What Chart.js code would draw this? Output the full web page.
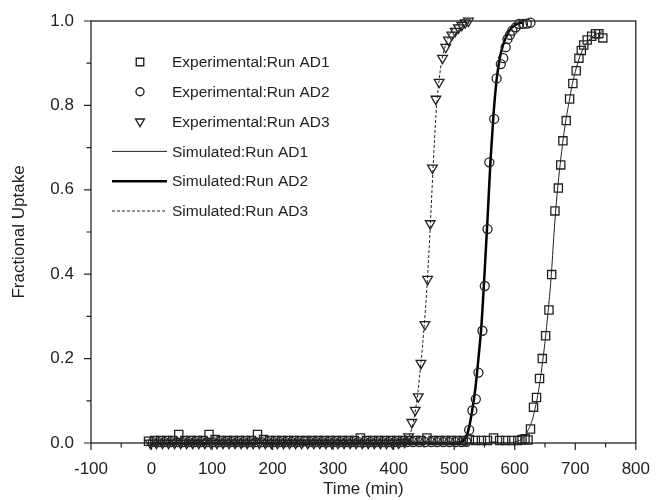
<!DOCTYPE html>
<html>
<head>
<meta charset="utf-8">
<script src="https://cdn.jsdelivr.net/npm/chart.js@4"></script>
<style>
  body { margin: 0; background: #fff; }
  #wrap { width: 658px; height: 500px; }
</style>
</head>
<body>
<div id="wrap"><canvas id="uptakeChart"></canvas></div>
<script>
// experimental run AD1 (squares)
const ad1Time = [-5,5,15,25,35,45,55,65,75,85,95,105,115,125,135,145,155,165,175,185,195,205,215,225,235,245,255,265,275,285,295,305,315,325,335,345,355,365,375,385,395,405,415,425,435,445,455,465,475,485,495,505,515,525,535,545,555,565,575,585,595,605,612,617,
    622,626,631,636,641,645.5,651,656.5,661,666.4,672,676,679.6,685,690.6,696,701.5,706,710,714,719.7,727,733.5,739,745.5]
const ad1Val = [0.004,0.006,0.006,0.006,0.006,0.02,0.006,0.006,0.006,0.006,0.02,0.008,0.006,0.006,0.006,0.006,0.006,0.006,0.02,0.008,0.006,0.006,0.006,0.006,0.006,0.006,0.006,0.006,0.006,0.006,0.006,0.006,0.006,0.006,0.006,0.012,0.006,0.006,0.006,0.006,0.006,0.006,0.006,0.006,0.006,0.006,0.012,0.006,0.006,0.006,0.006,0.006,0.006,0.008,0.006,0.006,0.006,0.012,0.006,0.006,0.006,0.006,0.008,0.01,
    0.007,0.033,0.085,0.108,0.153,0.2,0.254,0.315,0.399,0.55,0.604,0.659,0.716,0.764,0.815,0.852,0.882,0.912,0.93,0.943,0.955,0.964,0.97,0.97,0.96]

// experimental run AD2 (circles)
const ad2Time = [2,12,22,32,42,52,62,72,82,92,102,112,122,132,142,152,162,172,182,192,202,212,222,232,242,252,262,272,282,292,302,312,322,332,342,352,362,372,382,392,402,412,422,432,442,452,462,472,482,492,502,512,
    520,524.7,530,535.7,540,546.6,550.5,555,558,566,570,577,581,585,588,592,596,601.6,607,613.6,620,626]
const ad2Val = [0.002,0.002,0.002,0.002,0.002,0.002,0.002,0.002,0.002,0.002,0.002,0.002,0.002,0.002,0.002,0.002,0.002,0.002,0.002,0.002,0.002,0.002,0.002,0.002,0.002,0.004,0.002,0.002,0.002,0.002,0.002,0.002,0.002,0.002,0.002,0.002,0.002,0.002,0.002,0.002,0.002,0.002,0.002,0.002,0.002,0.002,0.002,0.002,0.002,0.002,0.002,0.002,
    0.003,0.031,0.077,0.104,0.167,0.266,0.372,0.507,0.665,0.768,0.864,0.898,0.912,0.938,0.957,0.967,0.977,0.985,0.993,0.993,0.994,0.996]

// experimental run AD3 (triangles)
const ad3Time = [-2,8,18,28,38,48,58,68,78,88,98,108,118,128,138,148,158,168,178,188,198,208,218,228,238,248,258,268,278,288,298,308,318,328,338,348,358,368,378,388,398,408,418,
    424.6,430,435.6,440.6,445,451.6,456,460.4,464,469.7,475,480.6,486,490.5,496,501.6,507,512.6,518,523.5]
const ad3Val = [0,0,0,0,0,0,0,0,0,0,0,0,0,0,0,0,0,0,0,0,0,0,0,0,0,0,0,0,0,0,0,0,0,0,0,0,0,0,0,0,0,0,0.002,
    0.015,0.049,0.078,0.11,0.189,0.281,0.388,0.52,0.652,0.815,0.855,0.912,0.938,0.955,0.967,0.976,0.984,0.99,0.996,1.0]

// simulated curves
const sim1Time = [0,580,600,610,620,630,640,650,655,660,665,670,675,680,685,690,695,700,710,720,730,745]
const sim1Val = [0,0,0.002,0.008,0.025,0.06,0.13,0.24,0.31,0.39,0.5,0.59,0.66,0.72,0.77,0.81,0.85,0.88,0.925,0.95,0.965,0.975]
const sim2Time = [0,500,515,520,525,530,535,540,545,550,555,560,565,570,575,580,590,600,615]
const sim2Val = [0,0,0.005,0.015,0.04,0.08,0.13,0.2,0.28,0.4,0.53,0.67,0.78,0.86,0.91,0.94,0.975,0.99,0.998]
const sim3Time = [0,400,420,425,430,435,440,445,450,455,460,465,470,475,480,490,500,510,520]
const sim3Val = [0,0,0.005,0.015,0.035,0.07,0.12,0.19,0.27,0.37,0.5,0.65,0.78,0.86,0.91,0.96,0.985,0.995,1.0]

const xTicks = [-100,0,100,200,300,400,500,600,700,800]
const yTicks = [0,0.2,0.4,0.6,0.8,1.0]

const toXY = (t, v) => t.map((x, i) => ({x: x, y: v[i]}))
const ink = '#222'
const font = 'Liberation Sans, Arial, sans-serif'

// frame, ticks (major + minor) and the legend box
const framePlugin = {
    id: 'frame',
    afterDraw(chart) {
        const {ctx, chartArea: a, scales} = chart
        ctx.save()
        ctx.strokeStyle = ink
        ctx.lineWidth = 1.3
        ctx.strokeRect(a.left, a.top, a.right - a.left, a.bottom - a.top)
        ctx.lineWidth = 1.2
        ctx.beginPath()
        for (let v = -100; v <= 800; v += 50) {
            const px = scales.x.getPixelForValue(v)
            const len = v % 100 === 0 ? 7 : 4.5
            ctx.moveTo(px, a.bottom); ctx.lineTo(px, a.bottom + len)
        }
        for (let k = 0; k <= 10; k++) {
            const py = scales.y.getPixelForValue(k / 10)
            const len = k % 2 === 0 ? 7 : 4.5
            ctx.moveTo(a.left, py); ctx.lineTo(a.left - len, py)
        }
        ctx.stroke()

        // legend
        ctx.font = '15.5px ' + font
        ctx.fillStyle = ink
        ctx.textBaseline = 'middle'
        chart.data.datasets.forEach((ds, i) => {
            const y = a.top + 41 + 29.8 * i
            if (ds.showLine) {
                ctx.save()
                ctx.strokeStyle = ds.borderColor
                ctx.lineWidth = ds.borderWidth
                ctx.setLineDash(ds.borderDash || [])
                ctx.beginPath()
                ctx.moveTo(a.left + 21, y); ctx.lineTo(a.left + 76, y)
                ctx.stroke()
                ctx.restore()
            } else {
                ctx.save()
                ctx.strokeStyle = ds.pointBorderColor
                ctx.fillStyle = 'transparent'
                ctx.lineWidth = 1.4
                Chart.helpers.drawPoint(ctx, {pointStyle: ds.pointStyle, radius: ds.pointRadius - 0.5, rotation: ds.pointRotation || 0, borderWidth: 1.4}, a.left + 49, y)
                ctx.restore()
            }
            ctx.fillText(ds.label, a.left + 81, y + 1)
        })
        ctx.restore()
    }
}

const ctx = document.getElementById('uptakeChart').getContext('2d')
const uptakeChart = new Chart(ctx, {
    type: 'scatter',
    data: {
        datasets: [{
            label: 'Experimental:Run AD1',
            data: toXY(ad1Time, ad1Val),
            pointStyle: 'rect',
            pointRadius: 5.8,
            pointBorderColor: ink,
            pointBackgroundColor: 'transparent',
            pointBorderWidth: 1.3
        }, {
            label: 'Experimental:Run AD2',
            data: toXY(ad2Time, ad2Val),
            pointStyle: 'circle',
            pointRadius: 4.5,
            pointBorderColor: ink,
            pointBackgroundColor: 'transparent',
            pointBorderWidth: 1.3
        }, {
            label: 'Experimental:Run AD3',
            data: toXY(ad3Time, ad3Val),
            pointStyle: 'triangle',
            pointRotation: 180,
            pointRadius: 5.6,
            pointBorderColor: ink,
            pointBackgroundColor: 'transparent',
            pointBorderWidth: 1.3
        }, {
            label: 'Simulated:Run AD1',
            data: toXY(sim1Time, sim1Val),
            showLine: true,
            pointRadius: 0,
            borderColor: ink,
            borderWidth: 1,
            cubicInterpolationMode: 'monotone'
        }, {
            label: 'Simulated:Run AD2',
            data: toXY(sim2Time, sim2Val),
            showLine: true,
            pointRadius: 0,
            borderColor: '#000',
            borderWidth: 2.5,
            cubicInterpolationMode: 'monotone'
        }, {
            label: 'Simulated:Run AD3',
            data: toXY(sim3Time, sim3Val),
            showLine: true,
            pointRadius: 0,
            borderColor: ink,
            borderWidth: 1,
            borderDash: [3, 2],
            cubicInterpolationMode: 'monotone'
        }]
    },
    options: {
        responsive: true,
        maintainAspectRatio: false,
        animation: false,
        clip: false,
        layout: { padding: { top: 21, right: 21, left: 0, bottom: 0 } },
        plugins: {
            legend: { display: false },
            tooltip: { enabled: false }
        },
        scales: {
            x: {
                type: 'linear',
                min: -100,
                max: 800,
                afterBuildTicks: (s) => { s.ticks = xTicks.map(v => ({value: v})) },
                afterFit: (s) => { s.height = 57 },
                grid: { display: false },
                border: { display: false },
                ticks: {
                    padding: 8,
                    color: ink,
                    font: { family: font, size: 17 },
                    maxRotation: 0
                },
                title: {
                    display: true,
                    text: 'Time (min)',
                    color: ink,
                    font: { family: font, size: 17 },
                    padding: { top: 0, bottom: 0 }
                }
            },
            y: {
                type: 'linear',
                min: 0,
                max: 1,
                afterBuildTicks: (s) => { s.ticks = yTicks.map(v => ({value: v})) },
                afterFit: (s) => { s.width = 91 },
                grid: { display: false },
                border: { display: false },
                ticks: {
                    padding: 9,
                    color: ink,
                    font: { family: font, size: 17 },
                    callback: (v) => Number(v).toFixed(1)
                },
                title: {
                    display: true,
                    text: 'Fractional Uptake',
                    color: ink,
                    font: { family: font, size: 17 },
                    padding: { top: 9, bottom: 0 }
                }
            }
        }
    },
    plugins: [framePlugin]
})
</script>
</body>
</html>
